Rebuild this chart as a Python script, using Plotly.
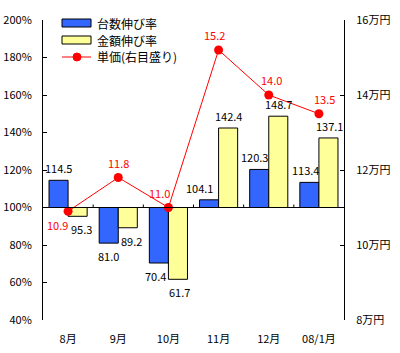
import plotly.graph_objects as go
import numpy as np

months = ["8月", "9月", "10月", "11月", "12月", "08/1月"]
unit_growth = [114.5, 81.0, 70.4, 104.1, 120.3, 113.4]
amount_growth = [95.3, 89.2, 61.7, 142.4, 148.7, 137.1]
unit_price = [10.9, 11.8, 11.0, 15.2, 14.0, 13.5]
left_ticks = [40, 60, 80, 100, 120, 140, 160, 180, 200]
right_ticks = [8, 10, 12, 14, 16]
series_names = ["台数伸び率", "金額伸び率", "単価(右目盛り)"]
# small horizontal nudges (px) for labels to avoid neighbouring marks
unit_label_nudge = [0, 0, -3, -10, -5, -4]
amount_label_nudge = [4, 4, 2, 0, 0, 1]
price_label_nudge = [-11, 0, -9, -4, 3, 6]
price_label_above = [False, True, True, True, True, True]

FONT = "Noto Sans CJK JP"
BASE = 100
BLUE = "#3366FF"
YELLOW = "#FFFF99"
RED = "#FF0000"
BAR_OFFSET = 9.5  # half bar width in px

fig = go.Figure()
fig.add_trace(go.Bar(
    x=months, y=np.array(unit_growth) - BASE, base=BASE,
    name=series_names[0], marker=dict(color=BLUE, line=dict(color="black", width=1)),
))
fig.add_trace(go.Bar(
    x=months, y=np.array(amount_growth) - BASE, base=BASE,
    name=series_names[1], marker=dict(color=YELLOW, line=dict(color="black", width=1)),
))
fig.add_trace(go.Scatter(
    x=months, y=unit_price, yaxis="y2", name=series_names[2],
    mode="lines+markers",
    line=dict(color=RED, width=1), marker=dict(color=RED, size=9),
    cliponaxis=False,
))

# bar value labels as annotations (drawn above all bars)
for vals, side, nudges in [(unit_growth, -1, unit_label_nudge), (amount_growth, 1, amount_label_nudge)]:
    for m, v, n in zip(months, vals, nudges):
        up = v >= BASE
        fig.add_annotation(
            x=m, y=v, xref="x", yref="y", text=f"{v:.1f}", showarrow=False,
            xshift=side * BAR_OFFSET + n, yshift=2 if up else -3,
            yanchor="bottom" if up else "top", xanchor="center",
            font=dict(family=FONT, size=11, color="black"),
        )

# unit price labels
for m, v, n, up in zip(months, unit_price, price_label_nudge, price_label_above):
    fig.add_annotation(
        x=m, y=v, xref="x", yref="y2", text=f"{v:.1f}", showarrow=False,
        xshift=n, yshift=5 if up else -4,
        yanchor="bottom" if up else "top", xanchor="center",
        font=dict(family=FONT, size=11, color=RED),
    )

# horizontal base line at 100% with category boundary ticks
fig.add_shape(type="line", xref="paper", yref="y", x0=0, x1=1, y0=BASE, y1=BASE,
              line=dict(color="black", width=1))
for i in range(len(months) - 1):
    fig.add_shape(type="line", xref="x", yref="y", x0=i + 0.5, x1=i + 0.5,
                  y0=BASE, y1=BASE + 1.6, line=dict(color="black", width=1))

# custom legend (plot area: x 43..344 px, y 20..320 px)
def px(xp):
    return (xp - 43) / 301.0

def py(yp):
    return (320 - yp) / 300.0

rows = [23, 40, 57]
for name, color, yc in zip(series_names[:2], [BLUE, YELLOW], rows[:2]):
    fig.add_shape(type="rect", xref="paper", yref="paper",
                  x0=px(62), x1=px(91), y0=py(yc - 4), y1=py(yc + 4),
                  fillcolor=color, line=dict(color="black", width=1))
fig.add_shape(type="line", xref="paper", yref="paper",
              x0=px(62), x1=px(91), y0=py(rows[2]), y1=py(rows[2]),
              line=dict(color=RED, width=1))
fig.add_shape(type="circle", xref="paper", yref="paper",
              x0=px(73), x1=px(81), y0=py(rows[2] - 4), y1=py(rows[2] + 4),
              fillcolor=RED, line=dict(color=RED, width=1))
for name, yc in zip(series_names, rows):
    fig.add_annotation(xref="paper", yref="paper", x=px(95), y=py(yc),
                       text=name, showarrow=False, xanchor="left", yanchor="middle",
                       font=dict(family=FONT, size=12, color="black"))

fig.update_layout(
    width=400, height=353,
    margin=dict(l=43, r=56, t=20, b=33),
    paper_bgcolor="white", plot_bgcolor="white",
    font=dict(family=FONT, size=11, color="black"),
    barmode="group", bargap=0.24, bargroupgap=0,
    showlegend=False,
    xaxis=dict(type="category", range=[-0.5, 5.5], showline=False, ticks="",
               showgrid=False, tickfont=dict(size=11), ticklabelstandoff=11,
               automargin=False),
    yaxis=dict(range=[40, 200], tickvals=left_ticks,
               ticktext=[f"{v}%" for v in left_ticks],
               showline=True, linecolor="black", linewidth=1,
               ticks="inside", ticklen=4, tickcolor="black",
               showgrid=False, zeroline=False, ticklabelstandoff=8,
               automargin=False),
    yaxis2=dict(range=[8, 16], tickvals=right_ticks,
                ticktext=[f"{v}万円" for v in right_ticks],
                overlaying="y", side="right",
                showline=True, linecolor="black", linewidth=1,
                ticks="inside", ticklen=4, tickcolor="black",
                showgrid=False, zeroline=False, ticklabelstandoff=9,
                automargin=False),
)

fig.write_html("out.html")
